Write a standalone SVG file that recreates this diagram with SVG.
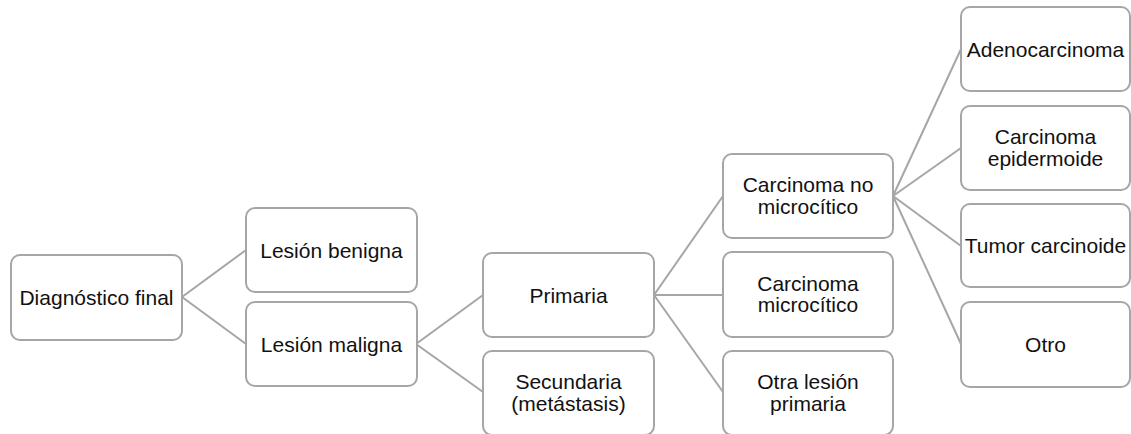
<svg xmlns="http://www.w3.org/2000/svg" width="1131" height="434" viewBox="0 0 1131 434">
<style>
.box{fill:#fff;stroke:#a6a6a6;stroke-width:2}
.lbl{font-family:"Liberation Sans",Arial,sans-serif;font-size:21px;fill:#111;text-anchor:middle}
.con{stroke:#a6a6a6;stroke-width:2;fill:none}
</style>
<rect width="1131" height="434" fill="#fff"/>
<g id="connectors">
<path class="con" d="M182,297 L246,250 M182,297 L246,344"/>
<path class="con" d="M416,344 L483,295 M416,344 L483,392"/>
<path class="con" d="M654,295 L723,196 M654,295 L723,295 M654,295 L723,392"/>
<path class="con" d="M893,196 L961,49 M893,196 L961,148 M893,196 L961,246 M893,196 L961,344"/>
</g>
<g id="n-diag"><rect class="box" x="11" y="255" width="171" height="85" rx="9"/><text class="lbl" x="96.5" y="305">Diagnóstico final</text></g>
<g id="n-benigna"><rect class="box" x="246" y="208" width="171" height="84" rx="9"/><text class="lbl" x="331.5" y="257.5">Lesión benigna</text></g>
<g id="n-maligna"><rect class="box" x="246" y="302" width="171" height="84" rx="9"/><text class="lbl" x="331.5" y="351.5">Lesión maligna</text></g>
<g id="n-primaria"><rect class="box" x="483" y="253" width="171" height="84" rx="9"/><text class="lbl" x="568.5" y="302.5">Primaria</text></g>
<g id="n-secundaria"><rect class="box" x="483" y="351" width="171" height="84" rx="9"/><text class="lbl" x="568.5" y="389">Secundaria</text><text class="lbl" x="568.5" y="410.5">(metástasis)</text></g>
<g id="n-cnm"><rect class="box" x="723" y="154" width="170" height="84" rx="9"/><text class="lbl" x="808" y="192">Carcinoma no</text><text class="lbl" x="808" y="213.5">microcítico</text></g>
<g id="n-cm"><rect class="box" x="723" y="252" width="170" height="85" rx="9"/><text class="lbl" x="808" y="290.5">Carcinoma</text><text class="lbl" x="808" y="312">microcítico</text></g>
<g id="n-otra"><rect class="box" x="723" y="351" width="170" height="84" rx="9"/><text class="lbl" x="808" y="389">Otra lesión</text><text class="lbl" x="808" y="410.5">primaria</text></g>
<g id="n-adeno"><rect class="box" x="961" y="7" width="169" height="84" rx="9"/><text class="lbl" x="1045.5" y="56.5">Adenocarcinoma</text></g>
<g id="n-epi"><rect class="box" x="961" y="106" width="169" height="84" rx="9"/><text class="lbl" x="1045.5" y="144">Carcinoma</text><text class="lbl" x="1045.5" y="165.5">epidermoide</text></g>
<g id="n-tumor"><rect class="box" x="961" y="204" width="169" height="83" rx="9"/><text class="lbl" x="1045.5" y="253">Tumor carcinoide</text></g>
<g id="n-otro"><rect class="box" x="961" y="302" width="169" height="85" rx="9"/><text class="lbl" x="1045.5" y="352">Otro</text></g>
</svg>
